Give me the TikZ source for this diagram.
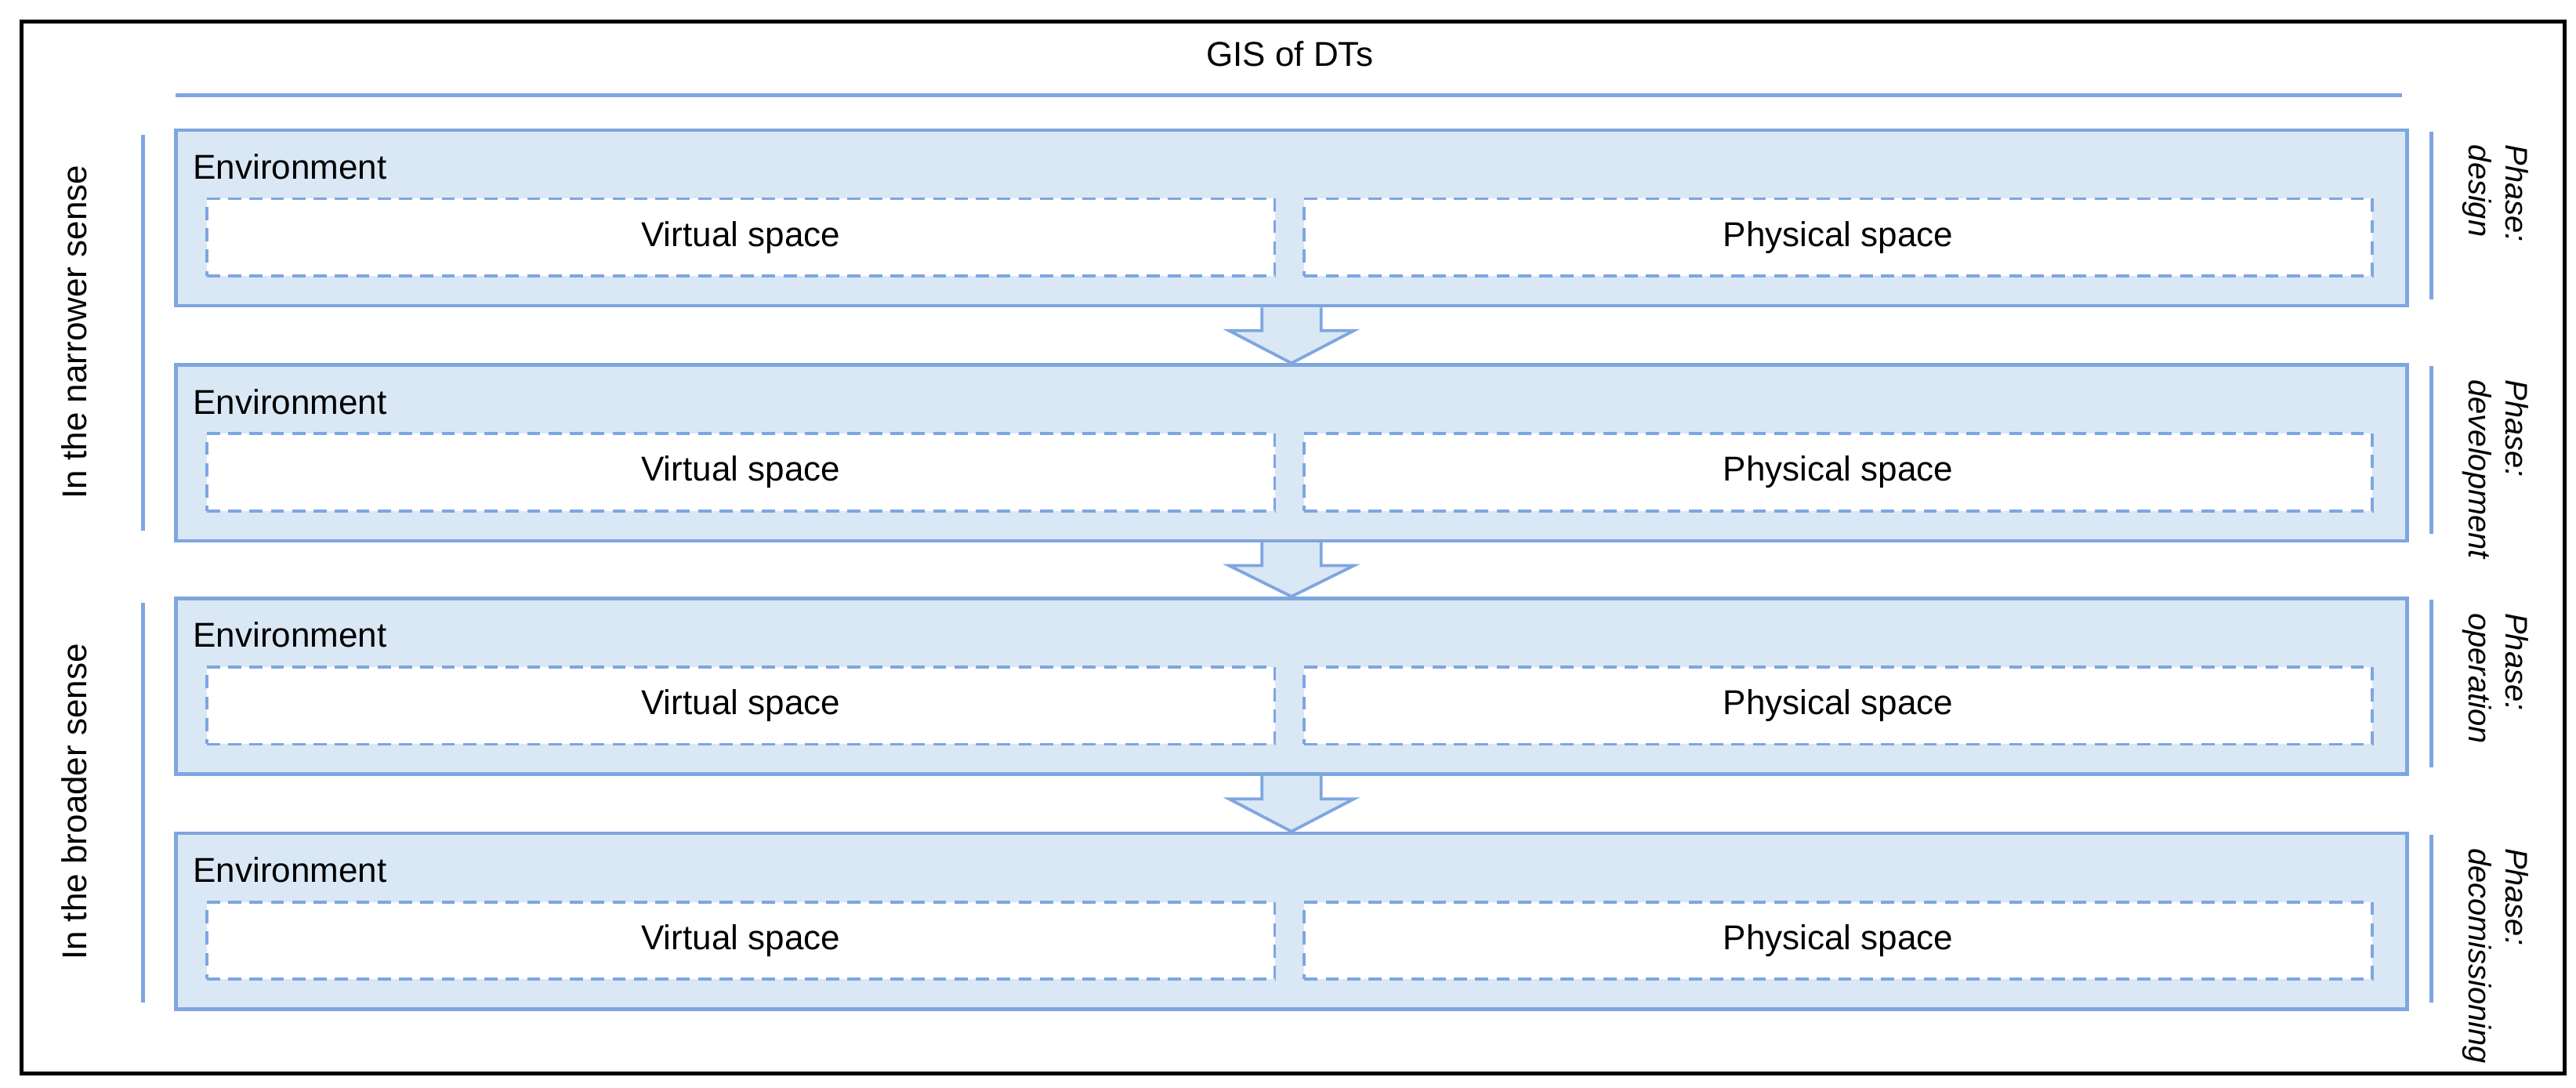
\documentclass[tikz,border=0pt]{standalone}
\usepackage{fontspec}
\setmainfont{Liberation Sans}
\definecolor{bfill}{HTML}{DAE8F5}
\definecolor{bline}{HTML}{7EA6E0}
\begin{document}
\begin{tikzpicture}[x=1pt,y=-1pt,
  env/.style={draw=bline,fill=bfill,line width=2.2pt,minimum width=1358pt,minimum height=107pt,anchor=north west,inner sep=0},
  sp/.style={draw=bline,fill=white,dash pattern=on 8pt off 5pt,line width=1.8pt,minimum width=650pt,minimum height=47pt,anchor=north west,inner sep=0,font=\fontsize{21}{24}\selectfont},
  lbl/.style={font=\fontsize{21}{24}\selectfont,anchor=base west},
  bar/.style={draw=bline,line width=2.2pt},
  arr/.style={draw=bline,fill=bfill,line width=1.8pt,line join=miter},
  phase/.style={rotate=-90,align=left,anchor=west,inner sep=0,font=\fontsize{19}{22}\selectfont\itshape},
  side/.style={rotate=90,font=\fontsize{21}{24}\selectfont}]
\useasboundingbox (0,0) rectangle (1568,662);
\node[draw=black,line width=2.4pt,minimum width=1548pt,minimum height=640pt,anchor=north west,inner sep=0] (frame) at (12,12) {};
\node[font=\fontsize{21}{24}\selectfont] (title) at (785,33) {GIS of DTs};
\coordinate (tl) at (107,58); \coordinate (tr) at (1462,58);
\draw[bar] (tl) -- (tr);
\foreach \i/\y/\ph in {1/78/design,2/221/development,3/363/operation,4/506/decomissioning}{
  \node[env] (b\i) at (106,\y) {};
  \node[lbl] (e\i) at (114,\y+31) {Environment};
  \node[sp] (v\i) at (125,\y+42) {Virtual space};
  \node[sp] (p\i) at (793,\y+42) {Physical space};
  \coordinate (rt\i) at (1480,\y+2); \coordinate (rb\i) at (1480,\y+104);
  \draw[bar] (rt\i) -- (rb\i);
  \node[phase] (ph\i) at (1519,\y+10) {Phase:\\\ph};
}
\foreach \a/\b in {1/2,2/3,3/4}{
  \draw[arr] ([xshift=-18pt]b\a.south) -- ([xshift=-18pt,yshift=-14pt]b\a.south) -- ([xshift=-38pt,yshift=-14pt]b\a.south) -- (b\b.north) -- ([xshift=38pt,yshift=-14pt]b\a.south) -- ([xshift=18pt,yshift=-14pt]b\a.south) -- ([xshift=18pt]b\a.south);
}
\coordinate (l1t) at (87,82); \coordinate (l1b) at (87,323);
\coordinate (l2t) at (87,367); \coordinate (l2b) at (87,610);
\draw[bar] (l1t) -- (l1b); \draw[bar] (l2t) -- (l2b);
\node[side] (n1) at (45,202) {In the narrower sense};
\node[side] (n2) at (45,488) {In the broader sense};
\end{tikzpicture}
\end{document}
